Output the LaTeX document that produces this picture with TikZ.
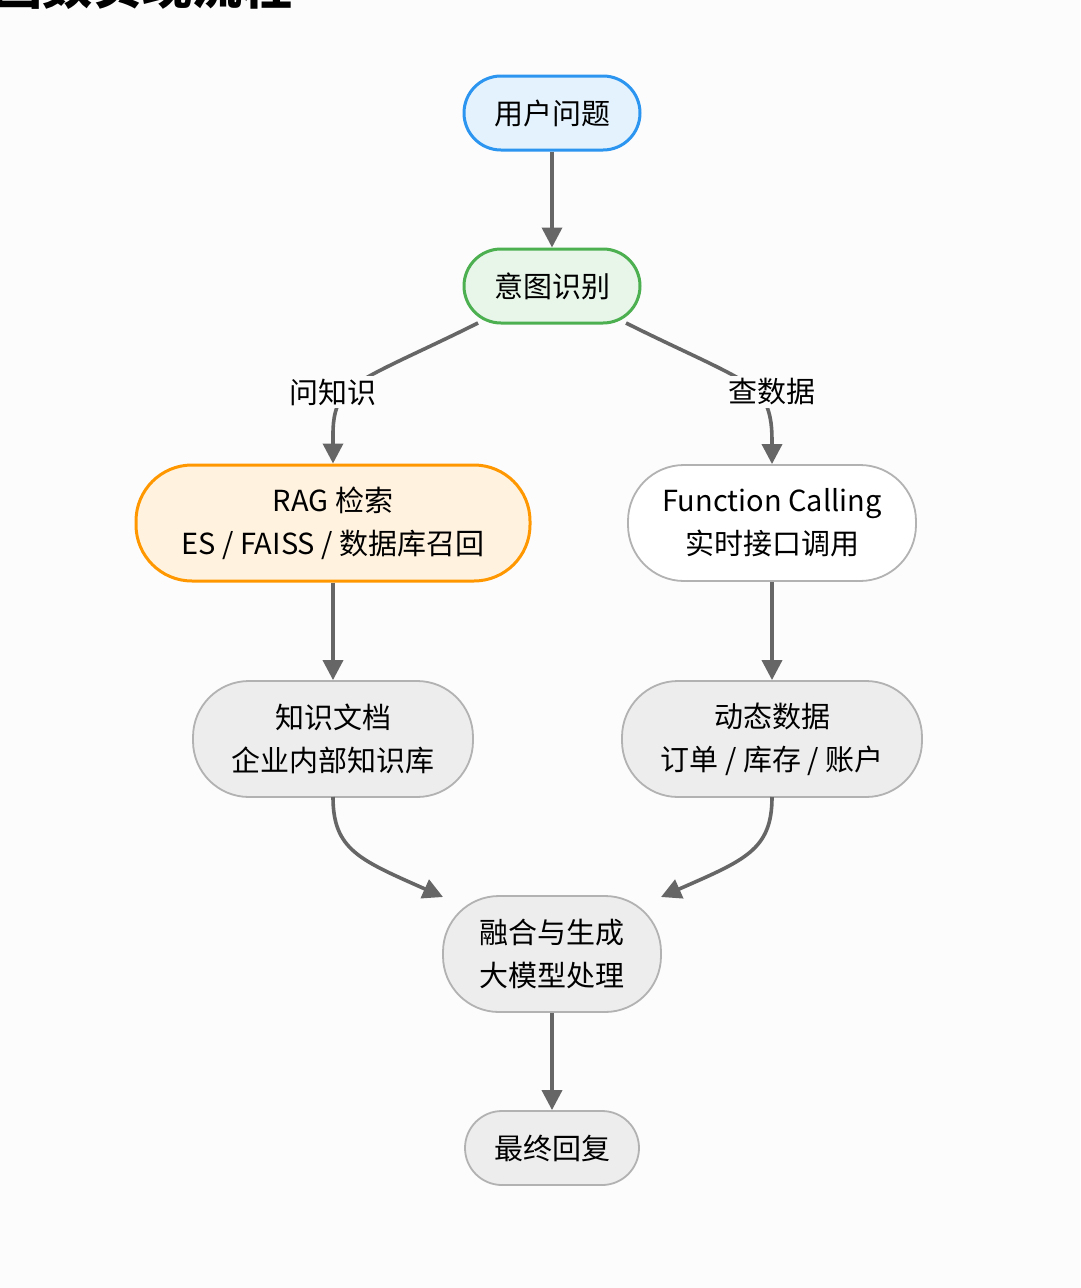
\documentclass[tikz,border=0pt]{standalone}
\usepackage{fontspec}
\setmainfont{Noto Sans CJK SC}
\usetikzlibrary{arrows.meta}
\definecolor{bg}{HTML}{FCFCFC}
\definecolor{ln}{HTML}{666666}
\tikzset{
  x=1pt,y=-1pt,
  box/.style={line width=1.8pt,align=center,font=\fontsize{29}{43}\selectfont,inner sep=0pt,draw=gray!60,fill=gray!14},
  small/.style={box,minimum height=74pt,rounded corners=37pt},
  big/.style={box,minimum height=116pt,rounded corners=56pt},
  arr/.style={draw=ln,line width=3.6pt,-{Triangle[length=20pt,width=20pt]}},
  lab/.style={fill=bg,inner sep=3pt,font=\fontsize{29}{32}\selectfont}
}
\begin{document}
\begin{tikzpicture}
\fill[bg] (0,0) rectangle (1080,1288);
\useasboundingbox (0,0) rectangle (1080,1288);
\node[anchor=south west,inner sep=0pt,font=\fontsize{50}{54}\selectfont\bfseries] (title) at (-8,10) {函数实现流程};
\node[small,minimum width=176pt,draw={rgb,255:red,43;green,149;blue,240},fill={rgb,255:red,227;green,242;blue,253},line width=3pt] (q) at (552,113) {用户问题};
\node[small,minimum width=176pt,draw={rgb,255:red,76;green,175;blue,80},fill={rgb,255:red,232;green,245;blue,233},line width=3pt] (i) at (552,286) {意图识别};
\node[big,minimum width=394pt,draw={rgb,255:red,255;green,152;blue,0},fill={rgb,255:red,255;green,243;blue,224},line width=3pt] (rag) at (333,523) {RAG 检索\\ES / FAISS / 数据库召回};
\node[big,minimum width=288pt,fill=white] (fc) at (772,523) {Function Calling\\实时接口调用};
\node[big,minimum width=280pt] (doc) at (333,739) {知识文档\\企业内部知识库};
\node[big,minimum width=300pt] (dyn) at (772,739) {动态数据\\订单 / 库存 / 账户};
\node[big,minimum width=218pt] (fu) at (552,954) {融合与生成\\大模型处理};
\node[small,minimum width=174pt] (ans) at (552,1148) {最终回复};
\coordinate (il) at (478,323); \coordinate (ir) at (626,323);
\coordinate (dl) at (333,797); \coordinate (dr) at (772,797);
\coordinate (fl) at (443,897); \coordinate (fr) at (661,897);
\draw[arr] (q) -- (i);
\draw[arr] (il) .. controls (400,362) and (350,380) .. (340,400) .. controls (332,416) and (333,430) .. (rag.north);
\node[lab] (l1) at (333,392) {问知识};
\draw[arr] (ir) .. controls (704,362) and (754,380) .. (764,400) .. controls (772,416) and (772,430) .. (fc.north);
\node[lab] (l2) at (772,392) {查数据};
\draw[arr] (rag) -- (doc);
\draw[arr] (fc) -- (dyn);
\draw[arr] (dl) .. controls (333,850) and (360,860) .. (fl);
\draw[arr] (dr) .. controls (772,850) and (745,860) .. (fr);
\draw[arr] (fu) -- (ans);
\end{tikzpicture}
\end{document}
